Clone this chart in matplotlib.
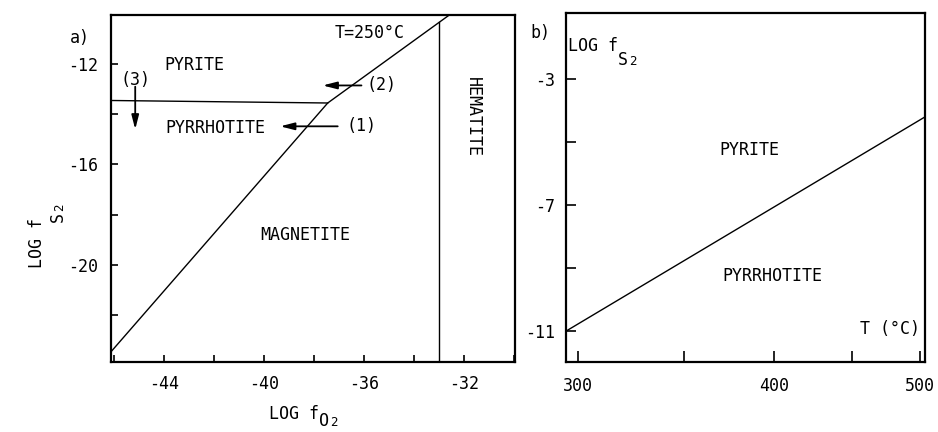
import numpy as np
import matplotlib
matplotlib.use('Agg')
import matplotlib.pyplot as plt
from matplotlib.ticker import FixedLocator, FixedFormatter

plt.rcParams['font.family'] = ['DejaVu Sans Mono', 'DejaVu Sans']
plt.rcParams['font.size'] = 12

# panel a) log fO2 - log fS2 at 250 C
pyr_po_x = [-46.1, -37.45]           # pyrite / pyrrhotite
pyr_po_y = [-13.45, -13.55]
mag_x = [-46.1, -37.45, -32.6]       # magnetite boundary (po-mt, py-mt)
mag_y = [-23.45, -13.55, -10.05]
hem_x = [-33.0, -33.0]               # magnetite / hematite
hem_y = [-23.9, -10.3]

a_xticks = [-46, -44, -42, -40, -38, -36, -34, -32, -30]
a_xlabels = ['', '-44', '', '-40', '', '-36', '', '-32', '']
a_yticks = [-22, -20, -18, -16, -14, -12]
a_ylabels = ['', '-20', '', '-16', '', '-12']

# arrows (tail x, tail y, head x, head y)
arr1 = (-37.05, -14.48, -39.35, -14.48)
arr2 = (-36.1, -12.85, -37.65, -12.85)
arr3 = (-45.15, -12.9, -45.15, -14.6)

# panel b) log fS2 vs T
b_T = [295, 504]
b_logfs2 = [-11.0, -4.2]
b_xticks = [300, 350, 400, 450, 500]
b_xlabels = ['300', '', '400', '', '500']
b_yticks = [-11, -9, -7, -5, -3]
b_ylabels = ['-11', '', '-7', '', '-3']

PX = 0.72  # points per pixel at dpi 100


def log_f_label(ax, xy, sub, drop, gap, rotated=False, coords='figure fraction'):
    """'LOG f' with a big first subscript letter and a small '2'"""
    if not rotated:
        t = ax.annotate('LOG f', xy=xy, xycoords=coords, ha='left', va='bottom',
                        annotation_clip=False)
        s = ax.annotate(sub, xy=(1, 0), xycoords=t, xytext=(gap * PX, -drop * PX),
                        textcoords='offset points', ha='left', va='bottom',
                        annotation_clip=False)
        ax.annotate('2', xy=(1, 0), xycoords=s, xytext=(0.5, 0.5),
                    textcoords='offset points', ha='left', va='bottom', fontsize=9,
                    annotation_clip=False)
    else:
        t = ax.annotate('LOG f', xy=xy, xycoords=coords, ha='right', va='bottom',
                        rotation=90, annotation_clip=False)
        s = ax.annotate(sub, xy=(1, 1), xycoords=t, xytext=(drop * PX, gap * PX),
                        textcoords='offset points', ha='right', va='bottom',
                        rotation=90, annotation_clip=False)
        ax.annotate('2', xy=(1, 1), xycoords=s, xytext=(-0.5, 0.5),
                    textcoords='offset points', ha='right', va='bottom', fontsize=9,
                    rotation=90, annotation_clip=False)


fig = plt.figure(figsize=(9.38, 4.32), dpi=100)
ax = fig.add_axes([0.1183, 0.162, 0.4307, 0.8033])
bx = fig.add_axes([0.6034, 0.162, 0.3827, 0.808])

for a in (ax, bx):
    for s in a.spines.values():
        s.set_linewidth(1.6)
    a.tick_params(direction='in', length=5, width=1.2, labelsize=12)

# ---- a)
ax.plot(pyr_po_x, pyr_po_y, c='black', lw=1.0)
ax.plot(mag_x, mag_y, c='black', lw=1.0)
ax.plot(hem_x, hem_y, c='black', lw=1.0)
ax.set_xlim(-46.12, -29.96)
ax.set_ylim(-23.88, -10.04)
ax.xaxis.set_major_locator(FixedLocator(a_xticks))
ax.xaxis.set_major_formatter(FixedFormatter(a_xlabels))
ax.yaxis.set_major_locator(FixedLocator(a_yticks))
ax.yaxis.set_major_formatter(FixedFormatter(a_ylabels))
ax.tick_params(axis='x', pad=9)
ax.tick_params(axis='y', pad=9)

for t in (arr1, arr2, arr3):
    ax.annotate('', xy=(t[2], t[3]), xytext=(t[0], t[1]),
                arrowprops=dict(arrowstyle='-|>,head_length=0.7,head_width=0.18',
                                color='black', lw=1.3, shrinkA=0, shrinkB=0))

ax.text(-35.3, -12.84, '(2)', ha='center', va='center')
ax.text(-36.1, -14.45, '(1)', ha='center', va='center')
ax.text(-45.12, -12.64, '(3)', ha='center', va='center')
ax.text(-42.8, -12.04, 'PYRITE', ha='center', va='center')
ax.text(-41.96, -14.56, 'PYRRHOTITE', ha='center', va='center')
ax.text(-38.36, -18.8, 'MAGNETITE', ha='center', va='center')
ax.text(-31.64, -14.12, 'HEMATITE', ha='center', va='center', rotation=-90)
ax.text(-35.76, -10.76, 'T=250°C', ha='center', va='center')
fig.text(80 / 938, 1 - 38 / 432, 'a)', ha='center', va='center', fontsize=12)

log_f_label(ax, (46 / 938, 1 - 268 / 432), 'S', drop=21, gap=-4, rotated=True)
log_f_label(ax, (269 / 938, 1 - 423 / 432), 'O', drop=7, gap=0)

# ---- b) reciprocal temperature axis
bx.set_xscale('function', functions=(lambda T: -1.0 / (np.asarray(T) + 273.15),
                                     lambda u: -1.0 / np.asarray(u) - 273.15))
bx.plot(b_T, b_logfs2, c='black', lw=1.0)
bx.set_xlim(295, 504)
bx.set_ylim(-11.98, -0.9)
bx.xaxis.set_major_locator(FixedLocator(b_xticks))
bx.xaxis.set_major_formatter(FixedFormatter(b_xlabels))
bx.xaxis.set_minor_locator(FixedLocator([]))
bx.yaxis.set_major_locator(FixedLocator(b_yticks))
bx.yaxis.set_major_formatter(FixedFormatter(b_ylabels))
bx.tick_params(axis='x', pad=11, length=8)
bx.tick_params(axis='y', pad=8, length=7)

bx.text(0.51, 0.607, 'PYRITE', transform=bx.transAxes, ha='center', va='center')
bx.text(0.574, 0.246, 'PYRRHOTITE', transform=bx.transAxes, ha='center', va='center')
bx.text(0.902, 0.095, 'T (°C)', transform=bx.transAxes, ha='center', va='center')
log_f_label(bx, (568 / 938, 1 - 55 / 432), 'S', drop=14, gap=0)
fig.text(540 / 938, 1 - 33 / 432, 'b)', ha='center', va='center', fontsize=12)

fig.savefig('out.png', dpi=100)
